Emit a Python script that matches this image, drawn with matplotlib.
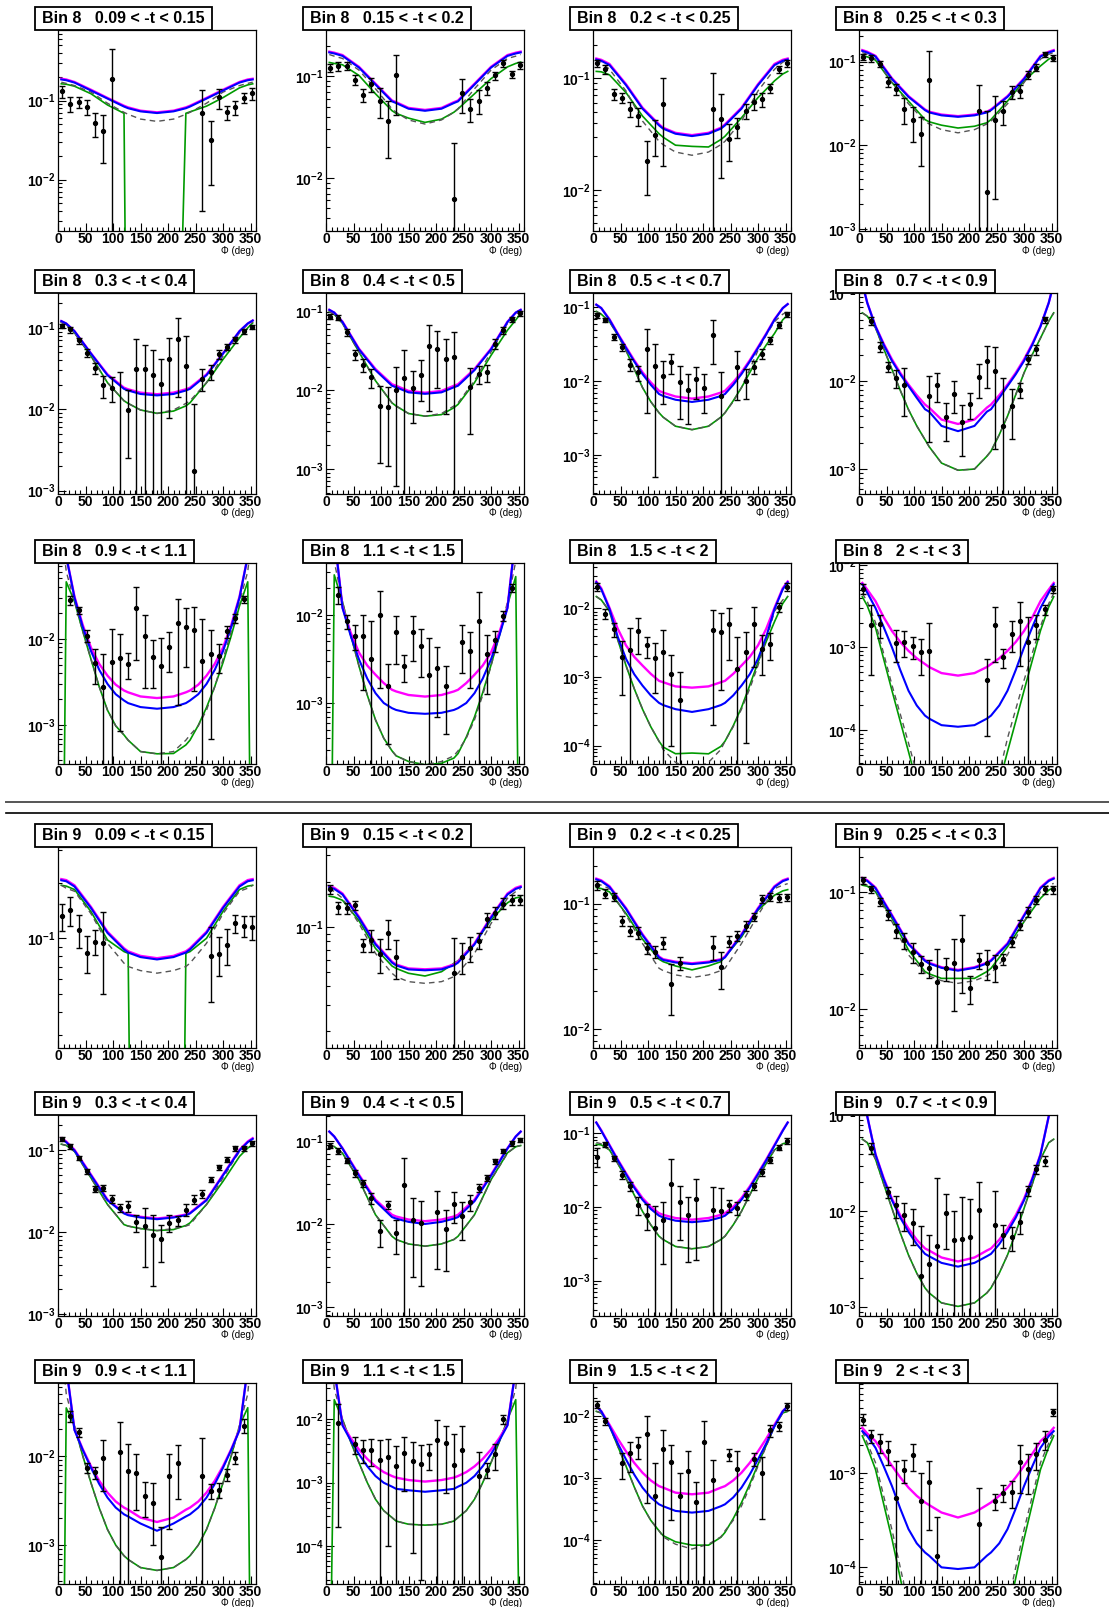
import matplotlib
matplotlib.use('Agg')
import numpy as np
import matplotlib.pyplot as plt
from matplotlib.patches import Rectangle
from matplotlib.lines import Line2D
from matplotlib.ticker import LogLocator, FuncFormatter, NullFormatter, MultipleLocator

plt.rcParams['font.family'] = ['Liberation Sans', 'DejaVu Sans']
plt.rcParams['mathtext.fontset'] = 'custom'
plt.rcParams['mathtext.rm'] = 'Liberation Sans'
plt.rcParams['mathtext.bf'] = 'Liberation Sans:bold'

N = None

BIN_NAMES = ['Bin 8', 'Bin 9']
T_RANGES = ['0.09 < -t < 0.15', '0.15 < -t < 0.2', '0.2 < -t < 0.25', '0.25 < -t < 0.3',
            '0.3 < -t < 0.4', '0.4 < -t < 0.5', '0.5 < -t < 0.7', '0.7 < -t < 0.9',
            '0.9 < -t < 1.1', '1.1 < -t < 1.5', '1.5 < -t < 2', '2 < -t < 3']

# phi bin centres of the data points
PHI_BINS = [7.5, 22.5, 37.5, 52.5, 67.5, 82.5, 97.5, 112.5, 127.5, 142.5, 157.5, 172.5,
            187.5, 202.5, 217.5, 232.5, 247.5, 262.5, 277.5, 292.5, 307.5, 322.5, 337.5, 352.5]
PHI_CURVE = [6, 15, 30, 60, 90, 120, 127.5, 150, 180, 210, 232.5, 240, 270, 300, 330, 345, 354]
# extra read-off points for the steep (large -t) panels
PHI_EXTRA = [45, 75, 105, 255, 285, 315]

# y range of each panel (Bin 8 panels first, then Bin 9)
YLIM = [(2.23e-3, 0.783), (3.0e-3, 0.286), (4.28e-3, 0.270), (9.5e-4, 0.238),
        (9.1e-4, 0.268), (4.8e-4, 0.172), (2.95e-4, 0.157), (5.2e-4, 0.101),
        (3.55e-4, 0.0755), (2.06e-4, 0.0384), (5.4e-5, 0.0459), (3.9e-5, 0.0105),
        (0.0254, 0.313), (0.0155, 0.341), (7.06e-3, 0.282), (4.67e-3, 0.241),
        (9.5e-4, 0.265), (7.8e-4, 0.205), (3.3e-4, 0.177), (8.1e-4, 0.101),
        (3.66e-4, 0.0663), (2.58e-5, 0.0365), (1.93e-5, 0.0345), (6.65e-5, 0.00914)]

DATA_Y = [
    [0.131, 0.0906, 0.095, 0.084, 0.052, 0.041, 0.185, N, N, N, N, N, N, N, N, N, N, 0.070, 0.0315, 0.110, 0.071, 0.082, 0.108, 0.124],
    [0.121, 0.126, 0.126, 0.0927, 0.0658, 0.0833, 0.0578, 0.0366, 0.102, N, N, N, N, N, N, 0.0062, 0.0689, 0.0478, 0.0578, 0.0766, 0.102, 0.134, 0.105, 0.129],
    [0.1355, 0.120, 0.0718, 0.067, 0.0526, 0.0458, 0.0182, 0.0313, 0.0583, N, N, N, N, N, 0.0533, 0.0427, 0.0286, 0.0365, 0.0508, 0.0616, 0.0647, 0.0813, 0.120, 0.1355],
    [0.114, 0.110, 0.093, 0.0575, 0.0466, 0.0275, 0.0198, 0.0137, 0.0603, N, N, N, N, N, 0.026, 0.00275, 0.0203, 0.0256, 0.0437, 0.0445, 0.0692, 0.0847, 0.1225, 0.1117],
    [0.105, 0.0955, 0.070, 0.0494, 0.0324, 0.0197, 0.0184, 0.0008, 0.0098, 0.0309, 0.0309, 0.026, 0.0202, 0.0417, 0.0733, 0.034, 0.00176, 0.0238, 0.0286, 0.0471, 0.0585, 0.072, 0.091, 0.102],
    [0.086, 0.0837, 0.0542, 0.0285, 0.021, 0.0146, 0.00628, 0.0061, 0.0101, 0.0143, 0.0108, 0.0156, 0.0365, 0.0337, 0.025, 0.0263, N, 0.011, 0.0161, 0.0168, 0.039, 0.058, 0.080, 0.095],
    [0.079, 0.0678, 0.040, 0.029, 0.0167, 0.0132, 0.0277, 0.0163, 0.0119, 0.0181, 0.0096, 0.0076, 0.0107, 0.0082, 0.0422, 0.0062, N, 0.0155, 0.0102, 0.0155, 0.0236, 0.036, 0.0578, 0.081],
    [N, 0.0483, 0.0247, 0.0146, 0.0109, 0.009, N, N, 0.00674, 0.00916, 0.0039, 0.0072, 0.0034, 0.00556, 0.0112, 0.0169, 0.0132, 0.0031, 0.0052, 0.008, 0.0177, 0.023, 0.0505, N],
    [N, 0.0282, 0.0213, 0.0109, 0.0053, 0.00275, 0.0054, 0.00605, 0.0051, 0.0227, 0.0107, 0.0062, 0.00487, 0.0081, 0.0152, 0.0137, 0.0128, 0.00555, 0.0067, 0.0064, 0.0122, 0.0174, 0.0287, N],
    [N, 0.0169, 0.0084, 0.0058, 0.0057, 0.0032, 0.010, 0.00155, 0.0063, 0.00263, 0.0063, 0.00446, 0.0021, 0.0025, 0.00155, N, 0.00487, 0.0039, 0.0086, 0.00357, 0.0052, 0.0097, 0.0202, N],
    [0.0208, 0.0084, 0.00497, 0.00195, 0.00244, 0.00465, 0.00289, 0.00188, 0.00231, 0.0011, 0.00047, N, N, N, 0.0048, 0.00454, 0.006, 0.00131, 0.00231, 0.006, 0.00258, 0.00306, 0.0105, 0.0208],
    [0.0051, 0.00187, 0.0019, N, 0.00114, 0.00116, 0.00103, 0.00087, 0.00091, N, N, N, N, N, N, 0.000405, 0.00187, 0.00076, 0.00147, 0.00209, 0.00115, 0.00187, 0.00288, 0.0051],
    [0.132, 0.142, 0.111, 0.0837, 0.096, 0.0948, N, N, N, N, N, N, N, N, N, N, N, N, 0.0803, 0.0822, 0.092, 0.1205, 0.1167, 0.1147],
    [0.1774, 0.1345, 0.133, 0.139, 0.0755, 0.0815, 0.0658, 0.0912, 0.063, N, N, N, N, N, N, 0.0489, 0.063, 0.0718, 0.0807, 0.112, 0.124, 0.143, 0.152, 0.152],
    [0.14, 0.12, 0.113, 0.0728, 0.0607, 0.0585, 0.044, 0.0413, 0.0488, 0.0229, 0.0334, N, N, N, 0.0453, 0.031, 0.0497, 0.055, 0.0661, 0.0783, 0.1096, 0.113, 0.11, 0.112],
    [0.1257, 0.1047, 0.0822, 0.0634, 0.0467, 0.0388, 0.0309, 0.0243, 0.0223, 0.0169, 0.0223, 0.0246, 0.0388, 0.0151, 0.0262, 0.0249, 0.0231, 0.0266, 0.0376, 0.0521, 0.0676, 0.085, 0.1047, 0.1047],
    [0.136, 0.1097, 0.0792, 0.0546, 0.0337, 0.0342, 0.0255, 0.0196, 0.0206, 0.0131, 0.0118, 0.0092, 0.0083, 0.0129, 0.0138, 0.0187, 0.0248, 0.029, 0.0433, 0.061, 0.0756, 0.1047, 0.1047, 0.12],
    [0.0879, 0.0759, 0.0575, 0.0409, 0.031, 0.0205, 0.0083, 0.017, 0.0078, 0.0291, 0.0113, 0.0103, N, 0.0139, 0.0087, 0.0174, 0.0124, 0.0184, 0.027, 0.0356, 0.0565, 0.0759, 0.0938, 0.1028],
    [0.0483, 0.071, 0.0458, 0.0273, 0.019, 0.0107, 0.0078, 0.0052, 0.0067, 0.0204, 0.0115, 0.0078, 0.0129, N, 0.0092, 0.0087, 0.0105, 0.0098, 0.0146, 0.019, 0.0296, 0.0436, 0.064, 0.0787],
    [N, 0.0452, N, 0.0158, 0.0115, 0.0092, 0.0075, 0.0021, 0.0028, 0.0043, 0.0095, 0.005, 0.0052, 0.0054, 0.0102, N, 0.0072, 0.00565, 0.0054, 0.0078, 0.0165, 0.0276, 0.0337, N],
    [N, 0.028, 0.0186, 0.0074, 0.0066, 0.0096, N, 0.0111, 0.0068, 0.0065, 0.00356, 0.003, 0.00073, 0.006, 0.0083, N, N, 0.006, 0.0041, 0.0042, 0.0062, 0.0096, 0.022, N],
    [N, 0.0085, N, 0.004, 0.0033, 0.0033, 0.0023, 0.0025, 0.0018, 0.00294, 0.00218, 0.00193, 0.0028, 0.0046, 0.0042, 0.00187, 0.0033, N, 0.00127, 0.0016, 0.0028, 0.0098, N, N],
    [0.0154, 0.0083, N, 0.00177, 0.00256, 0.00336, 0.0052, 0.00052, 0.0029, 0.00181, 0.00051, 0.0013, 0.00041, 0.0038, 0.00093, N, 0.0024, 0.00138, N, 0.00205, 0.00122, 0.0059, 0.0069, 0.0145],
    [0.00373, 0.00249, 0.00215, 0.00173, 0.00055, 0.00108, 0.00155, 0.00051, 0.0008, 0.000133, N, N, N, N, 0.00029, N, 0.00051, 0.00062, 0.00063, 0.00132, 0.0011, 0.00159, 0.00229, 0.00447],
]

DATA_ERR = [
    [0.023, 0.019, 0.015, 0.018, 0.017, 0.025, 0.26, N, N, N, N, N, N, N, N, N, N, 0.066, 0.023, 0.031, 0.014, 0.016, 0.016, 0.021],
    [0.011, 0.012, 0.011, 0.010, 0.010, 0.013, 0.019, 0.021, 0.060, N, N, N, N, N, N, 0.016, 0.025, 0.012, 0.015, 0.011, 0.009, 0.010, 0.008, 0.010],
    [0.010, 0.012, 0.008, 0.007, 0.008, 0.0087, 0.0093, 0.011, 0.042, N, N, N, N, N, 0.057, 0.030, 0.0105, 0.0073, 0.0075, 0.010, 0.0095, 0.007, 0.009, 0.010],
    [0.009, 0.010, 0.008, 0.008, 0.007, 0.0095, 0.0088, 0.008, 0.072, N, N, N, N, N, 0.026, 0.023, 0.018, 0.008, 0.0075, 0.008, 0.008, 0.008, 0.009, 0.009],
    [0.006, 0.008, 0.006, 0.005, 0.005, 0.006, 0.0062, 0.0278, 0.0073, 0.042, 0.030, 0.027, 0.021, 0.034, 0.059, 0.046, 0.0098, 0.007, 0.006, 0.006, 0.005, 0.006, 0.006, 0.006],
    [0.006, 0.006, 0.005, 0.004, 0.004, 0.004, 0.0051, 0.005, 0.0095, 0.0184, 0.007, 0.0083, 0.031, 0.023, 0.020, 0.028, N, 0.0082, 0.004, 0.004, 0.006, 0.006, 0.006, 0.006],
    [0.006, 0.005, 0.004, 0.003, 0.003, 0.003, 0.024, 0.0158, 0.007, 0.0055, 0.0065, 0.005, 0.005, 0.0045, 0.025, 0.007, N, 0.0099, 0.0045, 0.003, 0.0035, 0.004, 0.005, 0.006],
    [N, 0.005, 0.003, 0.002, 0.0025, 0.005, N, N, 0.0047, 0.0033, 0.0018, 0.0028, 0.002, 0.0018, 0.0047, 0.0086, 0.0115, 0.0078, 0.003, 0.0015, 0.002, 0.003, 0.004, N],
    [N, 0.0035, 0.002, 0.0018, 0.0023, 0.0039, 0.0076, 0.0052, 0.0017, 0.017, 0.008, 0.0035, 0.0054, 0.004, 0.0135, 0.009, 0.0103, 0.0114, 0.006, 0.0024, 0.002, 0.002, 0.003, N],
    [N, 0.0037, 0.0015, 0.0018, 0.0043, 0.0052, 0.0085, 0.0012, 0.0035, 0.0009, 0.0033, 0.0025, 0.0034, 0.0018, 0.0011, N, 0.0027, 0.0024, 0.0093, 0.0023, 0.0014, 0.0012, 0.002, N],
    [0.003, 0.0015, 0.0012, 0.0014, 0.0027, 0.0025, 0.001, 0.0013, 0.0025, 0.001, 0.0007, N, N, N, 0.0046, 0.0039, 0.0042, 0.0025, 0.0022, 0.0046, 0.0015, 0.0013, 0.0015, 0.003],
    [0.0007, 0.0014, 0.0006, N, 0.00047, 0.0004, 0.0003, 0.0004, 0.00105, N, N, N, N, N, N, 0.00032, 0.0012, 0.00019, 0.0006, 0.0015, 0.0012, 0.0006, 0.0004, 0.0005],
    [0.022, 0.025, 0.022, 0.019, 0.015, 0.045, N, N, N, N, N, N, N, N, N, N, N, N, 0.035, 0.020, 0.020, 0.014, 0.015, 0.017],
    [0.012, 0.012, 0.012, 0.010, 0.0075, 0.014, 0.017, 0.020, 0.018, N, N, N, N, N, N, 0.035, 0.015, 0.014, 0.010, 0.012, 0.012, 0.012, 0.012, 0.012],
    [0.011, 0.010, 0.008, 0.006, 0.006, 0.0065, 0.0045, 0.0045, 0.0055, 0.010, 0.004, N, N, N, 0.010, 0.010, 0.005, 0.005, 0.006, 0.006, 0.008, 0.008, 0.008, 0.008],
    [0.008, 0.007, 0.007, 0.006, 0.006, 0.006, 0.006, 0.004, 0.004, 0.0155, 0.005, 0.015, 0.025, 0.004, 0.004, 0.007, 0.006, 0.003, 0.004, 0.005, 0.006, 0.007, 0.008, 0.008],
    [0.008, 0.007, 0.005, 0.004, 0.003, 0.003, 0.003, 0.002, 0.003, 0.003, 0.008, 0.007, 0.004, 0.003, 0.002, 0.003, 0.003, 0.003, 0.003, 0.004, 0.005, 0.007, 0.007, 0.008],
    [0.006, 0.006, 0.004, 0.004, 0.003, 0.003, 0.003, 0.002, 0.0035, 0.033, 0.009, 0.0085, N, 0.011, 0.006, 0.007, 0.006, 0.004, 0.003, 0.003, 0.004, 0.005, 0.006, 0.007],
    [0.014, 0.006, 0.004, 0.003, 0.0025, 0.003, 0.003, 0.005, 0.005, 0.025, 0.008, 0.006, 0.011, N, 0.0094, 0.0095, 0.002, 0.002, 0.002, 0.002, 0.003, 0.004, 0.005, 0.008],
    [N, 0.006, N, 0.002, 0.003, 0.003, 0.003, 0.005, 0.0029, 0.018, 0.0055, 0.005, 0.009, 0.008, 0.010, N, 0.009, 0.0015, 0.0015, 0.002, 0.002, 0.003, 0.004, N],
    [N, 0.004, 0.002, 0.001, 0.001, 0.0055, N, 0.013, 0.007, 0.004, 0.0015, 0.002, 0.00085, 0.0045, 0.005, N, N, 0.010, 0.0008, 0.0008, 0.001, 0.0015, 0.004, N],
    [N, 0.0083, N, 0.0012, 0.0013, 0.0015, 0.0023, 0.0024, 0.002, 0.0022, 0.0021, 0.0019, 0.0012, 0.005, 0.0035, 0.004, 0.0044, N, 0.0018, 0.0004, 0.0012, 0.0015, N, N],
    [0.002, 0.001, N, 0.0008, 0.0013, 0.0013, 0.0048, 0.0012, 0.003, 0.0016, 0.0007, 0.0014, 0.00045, 0.0045, 0.001, N, 0.0005, 0.0014, N, 0.0005, 0.001, 0.0012, 0.0012, 0.002],
    [0.0005, 0.0004, 0.0005, 0.0005, 0.0008, 0.0003, 0.0005, 0.0005, 0.00055, 0.00021, N, N, N, N, 0.0004, N, 0.0001, 0.00013, 0.0002, 0.0007, 0.0005, 0.0005, 0.0005, 0.0004],
]

CURVE_MAGENTA = [
    [0.189, 0.185, 0.172, 0.137, 0.108, 0.086, 0.082, 0.0745, 0.071, 0.0745, 0.082, 0.086, 0.108, 0.137, 0.172, 0.185, 0.189],
    [0.175, 0.171, 0.162, 0.124, 0.0846, 0.0578, 0.0557, 0.0489, 0.0467, 0.0489, 0.0557, 0.0578, 0.0846, 0.124, 0.162, 0.171, 0.175],
    [0.150, 0.146, 0.134, 0.0883, 0.0544, 0.0386, 0.0360, 0.0324, 0.0309, 0.0324, 0.0360, 0.0386, 0.0544, 0.0883, 0.134, 0.146, 0.150],
    [0.137, 0.131, 0.117, 0.063, 0.0387, 0.0268, 0.0252, 0.0233, 0.0223, 0.0233, 0.0252, 0.0268, 0.0387, 0.063, 0.117, 0.131, 0.137],
    [0.121, 0.113, 0.091, 0.0486, 0.0268, 0.0184, 0.0176, 0.0160, 0.0153, 0.0160, 0.0176, 0.0184, 0.0268, 0.0486, 0.091, 0.113, 0.123],
    [0.105, 0.097, 0.0743, 0.0337, 0.0186, 0.0119, 0.0114, 0.0098, 0.0093, 0.0098, 0.0114, 0.0119, 0.0186, 0.0337, 0.0743, 0.097, 0.105],
    [0.109, 0.098, 0.0692, 0.029, 0.0132, 0.0074, 0.0070, 0.0062, 0.0058, 0.0062, 0.0070, 0.0074, 0.0132, 0.029, 0.0692, 0.098, 0.111],
    [0.13, 0.0783, 0.0424, 0.0177, 0.00916, 0.00542, 0.0050, 0.00366, 0.00326, 0.00366, 0.0050, 0.00542, 0.00916, 0.0177, 0.0424, 0.0783, 0.13],
    [0.2, 0.09, 0.0308, 0.0079, 0.00374, 0.00252, 0.0024, 0.00215, 0.00206, 0.00215, 0.0024, 0.00252, 0.00374, 0.0079, 0.0308, 0.09, 0.2],
    [0.2, 0.08, 0.0122, 0.00374, 0.0021, 0.00142, 0.00136, 0.00124, 0.00119, 0.00124, 0.00136, 0.00142, 0.0021, 0.00374, 0.0122, 0.08, 0.2],
    [0.0247, 0.0197, 0.0102, 0.00289, 0.00147, 0.00088, 0.00084, 0.00073, 0.0007, 0.00073, 0.00084, 0.00088, 0.00147, 0.00289, 0.0102, 0.0197, 0.0247],
    [0.00603, 0.00501, 0.00363, 0.00158, 0.00091, 0.00063, 0.00058, 0.00049, 0.000457, 0.00049, 0.00058, 0.00063, 0.00091, 0.00158, 0.00363, 0.00501, 0.00603],
    [0.2096, 0.207, 0.194, 0.148, 0.1086, 0.0883, 0.085, 0.0803, 0.078, 0.0803, 0.085, 0.0883, 0.1086, 0.148, 0.194, 0.207, 0.2096],
    [0.1866, 0.182, 0.1668, 0.1166, 0.0774, 0.0585, 0.056, 0.0527, 0.052, 0.0527, 0.056, 0.0585, 0.0774, 0.1166, 0.1668, 0.182, 0.1866],
    [0.158, 0.153, 0.1374, 0.092, 0.057, 0.0378, 0.036, 0.0344, 0.0334, 0.0344, 0.036, 0.0378, 0.057, 0.092, 0.1374, 0.153, 0.158],
    [0.1315, 0.1257, 0.1089, 0.0634, 0.0364, 0.0262, 0.0249, 0.0228, 0.0216, 0.0228, 0.0249, 0.0262, 0.0364, 0.0634, 0.1089, 0.1257, 0.1315],
    [0.1384, 0.1262, 0.1, 0.0498, 0.0248, 0.0171, 0.0163, 0.0153, 0.0146, 0.0153, 0.0163, 0.0171, 0.0248, 0.0498, 0.1, 0.1262, 0.1384],
    [0.1294, 0.113, 0.0817, 0.0391, 0.0196, 0.0129, 0.0123, 0.0113, 0.0108, 0.0113, 0.0123, 0.0129, 0.0196, 0.0391, 0.0817, 0.113, 0.1294],
    [0.14, 0.11, 0.0695, 0.0287, 0.0132, 0.0082, 0.0078, 0.00706, 0.0067, 0.00706, 0.0078, 0.0082, 0.0132, 0.0287, 0.0695, 0.11, 0.14],
    [0.2, 0.098, 0.0395, 0.0135, 0.0066, 0.0041, 0.0039, 0.0033, 0.003, 0.0033, 0.0039, 0.0041, 0.0066, 0.0135, 0.0395, 0.098, 0.2],
    [0.2, 0.1, 0.0199, 0.0077, 0.00389, 0.00264, 0.0025, 0.00204, 0.00182, 0.00204, 0.0025, 0.00264, 0.00389, 0.0077, 0.0199, 0.1, 0.2],
    [0.2, 0.06, 0.0081, 0.0033, 0.0018, 0.00127, 0.0012, 0.0011, 0.00104, 0.0011, 0.0012, 0.00127, 0.0018, 0.0033, 0.0081, 0.06, 0.2],
    [0.0145, 0.0121, 0.0073, 0.0027, 0.00122, 0.00074, 0.0007, 0.00058, 0.000546, 0.00058, 0.0007, 0.00074, 0.00122, 0.0027, 0.0073, 0.0121, 0.0145],
    [0.00305, 0.00265, 0.0022, 0.0012, 0.000705, 0.00049, 0.00046, 0.000383, 0.000339, 0.000383, 0.00046, 0.00049, 0.000705, 0.0012, 0.0022, 0.00265, 0.00305],
]

CURVE_BLUE = [
    [0.185, 0.181, 0.169, 0.134, 0.106, 0.084, 0.080, 0.073, 0.0695, 0.073, 0.080, 0.084, 0.106, 0.134, 0.169, 0.181, 0.185],
    [0.172, 0.168, 0.159, 0.122, 0.0830, 0.0567, 0.0546, 0.0480, 0.0458, 0.0480, 0.0546, 0.0567, 0.0830, 0.122, 0.159, 0.168, 0.172],
    [0.147, 0.143, 0.131, 0.0866, 0.0533, 0.0378, 0.0353, 0.0318, 0.0303, 0.0318, 0.0353, 0.0378, 0.0533, 0.0866, 0.131, 0.143, 0.147],
    [0.134, 0.128, 0.115, 0.0617, 0.0379, 0.0263, 0.0247, 0.0228, 0.0219, 0.0228, 0.0247, 0.0263, 0.0379, 0.0617, 0.115, 0.128, 0.134],
    [0.121, 0.113, 0.091, 0.0482, 0.0262, 0.0178, 0.0170, 0.0154, 0.0148, 0.0154, 0.0170, 0.0178, 0.0262, 0.0482, 0.091, 0.113, 0.123],
    [0.105, 0.097, 0.0735, 0.0330, 0.0180, 0.0114, 0.0109, 0.0094, 0.0090, 0.0094, 0.0109, 0.0114, 0.0180, 0.0330, 0.0735, 0.097, 0.105],
    [0.109, 0.098, 0.068, 0.0282, 0.0125, 0.0067, 0.0063, 0.0056, 0.00523, 0.0056, 0.0063, 0.0067, 0.0125, 0.0282, 0.068, 0.098, 0.111],
    [0.13, 0.078, 0.042, 0.017, 0.0088, 0.0048, 0.0045, 0.0031, 0.0027, 0.0031, 0.0045, 0.0048, 0.0088, 0.017, 0.042, 0.078, 0.13],
    [0.2, 0.09, 0.030, 0.0072, 0.0030, 0.00193, 0.0018, 0.00162, 0.00155, 0.00162, 0.0018, 0.00193, 0.0030, 0.0072, 0.030, 0.09, 0.2],
    [0.2, 0.08, 0.0119, 0.00313, 0.0013, 0.00088, 0.00084, 0.00078, 0.00076, 0.00078, 0.00084, 0.00088, 0.0013, 0.00313, 0.0119, 0.08, 0.2],
    [0.024, 0.019, 0.0098, 0.00184, 0.00075, 0.00042, 0.00039, 0.00034, 0.00031, 0.00034, 0.00039, 0.00042, 0.00075, 0.00184, 0.0098, 0.019, 0.024],
    [0.0058, 0.0046, 0.0030, 0.0010, 0.0003, 0.00015, 0.000138, 0.000115, 0.00011, 0.000115, 0.000138, 0.00015, 0.0003, 0.0010, 0.0030, 0.0046, 0.0058],
    [0.2065, 0.204, 0.191, 0.146, 0.107, 0.087, 0.0837, 0.0791, 0.0768, 0.0791, 0.0837, 0.087, 0.107, 0.146, 0.191, 0.204, 0.2065],
    [0.1838, 0.179, 0.1643, 0.1148, 0.0762, 0.0576, 0.0552, 0.0519, 0.0512, 0.0519, 0.0552, 0.0576, 0.0762, 0.1148, 0.1643, 0.179, 0.1838],
    [0.1556, 0.1507, 0.1353, 0.0905, 0.056, 0.0372, 0.0355, 0.0339, 0.0329, 0.0339, 0.0355, 0.0372, 0.056, 0.0905, 0.1353, 0.1507, 0.1556],
    [0.1295, 0.1238, 0.1073, 0.0624, 0.0358, 0.0258, 0.0245, 0.0225, 0.0213, 0.0225, 0.0245, 0.0258, 0.0358, 0.0624, 0.1073, 0.1238, 0.1295],
    [0.1356, 0.1237, 0.098, 0.0488, 0.0243, 0.0168, 0.016, 0.015, 0.0143, 0.015, 0.016, 0.0168, 0.0243, 0.0488, 0.098, 0.1237, 0.1356],
    [0.1294, 0.113, 0.081, 0.038, 0.0188, 0.0121, 0.0116, 0.0106, 0.0100, 0.0106, 0.0116, 0.0121, 0.0188, 0.038, 0.081, 0.113, 0.1294],
    [0.14, 0.108, 0.068, 0.0278, 0.0125, 0.0076, 0.0072, 0.0065, 0.0062, 0.0065, 0.0072, 0.0076, 0.0125, 0.0278, 0.068, 0.108, 0.14],
    [0.2, 0.098, 0.039, 0.013, 0.0061, 0.0036, 0.0034, 0.0029, 0.00265, 0.0029, 0.0034, 0.0036, 0.0061, 0.013, 0.039, 0.098, 0.2],
    [0.2, 0.1, 0.0196, 0.0074, 0.00342, 0.00222, 0.0021, 0.00175, 0.00145, 0.00175, 0.0021, 0.00222, 0.00342, 0.0074, 0.0196, 0.1, 0.2],
    [0.2, 0.06, 0.0079, 0.0028, 0.00127, 0.000866, 0.0008, 0.00076, 0.00072, 0.00076, 0.0008, 0.000866, 0.00127, 0.0028, 0.0079, 0.06, 0.2],
    [0.0145, 0.012, 0.0069, 0.002, 0.0007, 0.000376, 0.00035, 0.000294, 0.000276, 0.000294, 0.00035, 0.000376, 0.0007, 0.002, 0.0069, 0.012, 0.0145],
    [0.00281, 0.00249, 0.00187, 0.00073, 0.000255, 0.000144, 0.000133, 0.0001, 0.000096, 0.0001, 0.000133, 0.000144, 0.000255, 0.00073, 0.00187, 0.00249, 0.00281],
]

CURVE_GREEN = [
    [0.163, 0.161, 0.152, 0.122, 0.088, 0.069, 1e-7, 1e-7, 1e-7, 1e-7, 0.069, 0.072, 0.085, 0.109, 0.145, 0.158, 0.163],
    [0.137, 0.134, 0.130, 0.102, 0.0673, 0.0459, 0.0432, 0.0388, 0.0352, 0.0379, 0.0443, 0.0478, 0.0673, 0.0948, 0.124, 0.134, 0.138],
    [0.115, 0.114, 0.107, 0.0743, 0.0458, 0.0318, 0.0296, 0.0251, 0.0245, 0.0242, 0.0282, 0.0302, 0.0442, 0.067, 0.0946, 0.109, 0.115],
    [0.117, 0.114, 0.104, 0.056, 0.0337, 0.0203, 0.0191, 0.0174, 0.0161, 0.0169, 0.0186, 0.0203, 0.0337, 0.0586, 0.0887, 0.107, 0.114],
    [0.117, 0.110, 0.0868, 0.045, 0.0212, 0.0127, 0.0118, 0.0098, 0.0089, 0.0095, 0.011, 0.012, 0.0212, 0.041, 0.0754, 0.100, 0.115],
    [0.100, 0.092, 0.0708, 0.0306, 0.0132, 0.0069, 0.0063, 0.00506, 0.00468, 0.0049, 0.0060, 0.0066, 0.0125, 0.0277, 0.058, 0.078, 0.095],
    [0.0882, 0.081, 0.0642, 0.0262, 0.0082, 0.00373, 0.00325, 0.00245, 0.0022, 0.00245, 0.00325, 0.00373, 0.0082, 0.0208, 0.0444, 0.068, 0.079],
    [0.060, 0.055, 0.0406, 0.0136, 0.00475, 0.00216, 0.0018, 0.00117, 0.00097, 0.0010, 0.0014, 0.0016, 0.0040, 0.0124, 0.031, 0.0483, 0.060],
    [1e-7, 0.0457, 0.027, 0.0058, 0.00149, 0.00077, 0.00067, 0.000495, 0.000466, 0.00047, 0.00059, 0.00067, 0.0016, 0.0053, 0.024, 0.0457, 1e-7],
    [1e-7, 0.0282, 0.014, 0.00263, 0.00065, 0.00029, 0.000255, 0.00022, 0.000202, 0.00021, 0.00024, 0.00027, 0.0007, 0.0027, 0.0128, 0.027, 1e-7],
    [0.0149, 0.0133, 0.0091, 0.00147, 0.00034, 0.000116, 0.0000955, 0.0000762, 0.000078, 0.000076, 0.0000975, 0.000116, 0.00036, 0.00164, 0.0064, 0.0118, 0.0149],
    [0.0041, 0.0032, 0.00174, 0.0003, 0.000055, 1e-5, 1e-5, 1e-6, 1e-6, 1e-6, 1e-5, 1e-5, 0.000055, 0.0003, 0.0016, 0.0031, 0.0041],
    [0.194, 0.192, 0.184, 0.1395, 0.098, 0.0847, 0.083, 1e-7, 1e-7, 1e-7, 0.083, 0.0847, 0.100, 0.140, 0.184, 0.192, 0.194],
    [0.16, 0.158, 0.1503, 0.1097, 0.0717, 0.0547, 0.0527, 0.0489, 0.0469, 0.0501, 0.057, 0.0593, 0.0774, 0.111, 0.1446, 0.156, 0.158],
    [0.134, 0.1315, 0.1237, 0.0833, 0.052, 0.036, 0.0344, 0.0318, 0.0296, 0.0318, 0.0344, 0.0378, 0.054, 0.0885, 0.1165, 0.126, 0.129],
    [0.114, 0.1117, 0.1, 0.0593, 0.0319, 0.0209, 0.02, 0.0183, 0.0183, 0.0183, 0.0209, 0.0223, 0.034, 0.0556, 0.088, 0.1034, 0.109],
    [0.117, 0.113, 0.0955, 0.0454, 0.0216, 0.0123, 0.0118, 0.011, 0.0104, 0.0107, 0.012, 0.0129, 0.0216, 0.0413, 0.083, 0.105, 0.115],
    [0.088, 0.0855, 0.0711, 0.034, 0.0129, 0.0071, 0.0065, 0.00575, 0.0054, 0.00575, 0.0065, 0.0071, 0.0129, 0.034, 0.072, 0.085, 0.088],
    [0.071, 0.0695, 0.0594, 0.0245, 0.0087, 0.004, 0.0036, 0.0029, 0.0027, 0.0029, 0.0036, 0.004, 0.0087, 0.0245, 0.0594, 0.072, 0.075],
    [0.0565, 0.052, 0.035, 0.0107, 0.0035, 0.00159, 0.00141, 0.00111, 0.00102, 0.00111, 0.00141, 0.00159, 0.0035, 0.0107, 0.035, 0.052, 0.0565],
    [1e-7, 0.0348, 0.0217, 0.005, 0.0015, 0.00076, 0.00069, 0.00056, 0.00052, 0.00056, 0.00069, 0.00076, 0.0015, 0.005, 0.022, 0.035, 1e-7],
    [1e-7, 0.02, 0.0098, 0.00205, 0.00055, 0.000284, 0.00025, 0.000223, 0.000216, 0.000223, 0.00025, 0.000284, 0.00055, 0.00205, 0.0098, 0.02, 1e-7],
    [0.012, 0.0113, 0.0069, 0.00156, 0.000353, 0.00014, 0.000117, 0.000093, 0.000082, 0.000082, 0.00011, 0.000132, 0.0004, 0.00166, 0.0069, 0.0113, 0.012],
    [0.0025, 0.0019, 0.0011, 0.0002, 0.00003, 1e-6, 1e-6, 1e-6, 1e-6, 1e-6, 1e-6, 1e-6, 0.00003, 0.0002, 0.0011, 0.0019, 0.0025],
]

CURVE_DASHED = [
    [0.171, 0.165, 0.155, 0.128, 0.0925, 0.071, 0.067, 0.0583, 0.0545, 0.0583, 0.067, 0.071, 0.0925, 0.128, 0.155, 0.165, 0.171],
    [0.164, 0.158, 0.150, 0.115, 0.0754, 0.0478, 0.0443, 0.0372, 0.0339, 0.0372, 0.0443, 0.0478, 0.0754, 0.115, 0.150, 0.158, 0.164],
    [0.1455, 0.139, 0.120, 0.0769, 0.0413, 0.0272, 0.0254, 0.0218, 0.0204, 0.0218, 0.0254, 0.0272, 0.0413, 0.0769, 0.120, 0.139, 0.1455],
    [0.128, 0.122, 0.107, 0.056, 0.0313, 0.0194, 0.018, 0.0154, 0.0141, 0.0154, 0.018, 0.0194, 0.0313, 0.056, 0.107, 0.122, 0.128],
    [0.117, 0.110, 0.0868, 0.045, 0.0212, 0.0127, 0.0118, 0.0098, 0.0089, 0.0098, 0.0118, 0.0127, 0.0212, 0.045, 0.0868, 0.110, 0.117],
    [0.100, 0.092, 0.0708, 0.0306, 0.0132, 0.0069, 0.0063, 0.00506, 0.00468, 0.00506, 0.0063, 0.0069, 0.0132, 0.0306, 0.0708, 0.092, 0.100],
    [0.0882, 0.081, 0.0642, 0.0262, 0.0082, 0.00373, 0.00325, 0.00245, 0.0022, 0.00245, 0.00325, 0.00373, 0.0082, 0.0262, 0.0642, 0.081, 0.0882],
    [0.060, 0.055, 0.0406, 0.0136, 0.00475, 0.00216, 0.0018, 0.00117, 0.00097, 0.0010, 0.0014, 0.0016, 0.0040, 0.0124, 0.031, 0.0483, 0.060],
    [0.2, 0.06, 0.027, 0.0058, 0.00149, 0.00077, 0.00067, 0.000495, 0.000466, 0.000495, 0.00067, 0.00077, 0.00149, 0.0058, 0.027, 0.06, 0.2],
    [0.2, 0.04, 0.014, 0.00263, 0.00065, 0.00029, 0.000255, 0.00022, 0.000202, 0.00022, 0.000255, 0.00029, 0.00065, 0.00263, 0.014, 0.04, 0.2],
    [0.0149, 0.0133, 0.0091, 0.00147, 0.00034, 0.000116, 0.000088, 0.000057, 0.000045, 0.000057, 0.000088, 0.000116, 0.00034, 0.00147, 0.0091, 0.0133, 0.0149],
    [0.0045, 0.0036, 0.0020, 0.00035, 0.00007, 1e-5, 1e-5, 1e-6, 1e-6, 1e-6, 1e-5, 1e-5, 0.00008, 0.0004, 0.0018, 0.0034, 0.0045],
    [0.194, 0.187, 0.180, 0.136, 0.094, 0.0733, 0.0703, 0.0668, 0.0647, 0.0668, 0.0703, 0.0733, 0.094, 0.136, 0.180, 0.187, 0.194],
    [0.18, 0.172, 0.155, 0.105, 0.0664, 0.0489, 0.0464, 0.043, 0.0419, 0.043, 0.0464, 0.0489, 0.0664, 0.105, 0.155, 0.172, 0.18],
    [0.144, 0.14, 0.1315, 0.0808, 0.048, 0.0305, 0.0292, 0.027, 0.0257, 0.027, 0.0292, 0.0305, 0.048, 0.0808, 0.1315, 0.14, 0.144],
    [0.118, 0.114, 0.1, 0.0556, 0.029, 0.0202, 0.0192, 0.0175, 0.0166, 0.0175, 0.0192, 0.0202, 0.029, 0.0556, 0.1, 0.114, 0.118],
    [0.117, 0.113, 0.0955, 0.0454, 0.0216, 0.0123, 0.0118, 0.011, 0.0104, 0.011, 0.0118, 0.0123, 0.0216, 0.0454, 0.0955, 0.113, 0.117],
    [0.088, 0.0855, 0.0711, 0.034, 0.0129, 0.0071, 0.0065, 0.00575, 0.0054, 0.00575, 0.0065, 0.0071, 0.0129, 0.034, 0.0711, 0.0855, 0.088],
    [0.075, 0.072, 0.0594, 0.0245, 0.0087, 0.004, 0.0036, 0.0029, 0.0027, 0.0029, 0.0036, 0.004, 0.0087, 0.0245, 0.0594, 0.072, 0.075],
    [0.0565, 0.052, 0.035, 0.0107, 0.0035, 0.00159, 0.00141, 0.00111, 0.00102, 0.00111, 0.00141, 0.00159, 0.0035, 0.0107, 0.035, 0.052, 0.0565],
    [0.2, 0.05, 0.0217, 0.005, 0.0015, 0.00076, 0.00069, 0.00056, 0.00052, 0.00056, 0.00069, 0.00076, 0.0015, 0.005, 0.0217, 0.05, 0.2],
    [0.2, 0.03, 0.0098, 0.00205, 0.00055, 0.000284, 0.00025, 0.000223, 0.000216, 0.000223, 0.00025, 0.000284, 0.00055, 0.00205, 0.0098, 0.03, 0.2],
    [0.012, 0.0113, 0.0069, 0.00156, 0.000353, 0.00014, 0.000112, 0.000085, 0.000071, 0.000085, 0.000112, 0.00014, 0.000353, 0.00156, 0.0069, 0.0113, 0.012],
    [0.0028, 0.0021, 0.0013, 0.00025, 0.00004, 1e-6, 1e-6, 1e-6, 1e-6, 1e-6, 1e-6, 1e-6, 0.00004, 0.00025, 0.0013, 0.0021, 0.0028],
]

# curve values at PHI_EXTRA (only read for the steep panels)
EXTRA_MAGENTA = [
    N, N, N, N, N, N,
    [0.0443, 0.0192, 0.00964, 0.00964, 0.0192, 0.0443],
    [0.02667, 0.01246, 0.00693, 0.00693, 0.01246, 0.02667],
    [0.01445, 0.00512, 0.00294, 0.00294, 0.00512, 0.01445],
    [0.00626, 0.00267, 0.00169, 0.00169, 0.00267, 0.00626],
    [0.00505, 0.001967, 0.001114, 0.001114, 0.001967, 0.00505],
    [0.002312, 0.001165, 0.00074, 0.00074, 0.001165, 0.002312],
    N, N, N, N, N, N,
    [0.04406, 0.01897, 0.01002, 0.01002, 0.01897, 0.04406],
    [0.02208, 0.0091, 0.00505, 0.00505, 0.0091, 0.02208],
    [0.01197, 0.00528, 0.00309, 0.00309, 0.00528, 0.01197],
    [0.00498, 0.002355, 0.001464, 0.001464, 0.002355, 0.00498],
    [0.00433, 0.00176, 0.000916, 0.000916, 0.00176, 0.00433],
    [0.00161, 0.000906, 0.000576, 0.000576, 0.000906, 0.00161],
]
EXTRA_BLUE = [
    N, N, N, N, N, N,
    [0.0434, 0.01847, 0.00894, 0.00894, 0.01847, 0.0434],
    [0.0259, 0.0120, 0.00646, 0.00646, 0.0120, 0.0259],
    [0.01372, 0.00437, 0.00228, 0.00228, 0.00437, 0.01372],
    [0.00576, 0.0019, 0.001006, 0.001006, 0.0019, 0.00576],
    [0.003854, 0.001097, 0.00054, 0.00054, 0.001097, 0.003854],
    [0.001754, 0.000534, 0.000199, 0.000199, 0.000534, 0.001754],
    N, N, N, N, N, N,
    [0.04295, 0.01818, 0.00938, 0.00938, 0.01818, 0.04295],
    [0.02158, 0.0086, 0.00455, 0.00455, 0.0086, 0.02158],
    [0.01174, 0.00486, 0.00264, 0.00264, 0.00486, 0.01174],
    [0.00456, 0.00181, 0.000997, 0.000997, 0.00181, 0.00456],
    [0.00363, 0.001138, 0.000486, 0.000486, 0.001138, 0.00363],
    [0.001184, 0.000422, 0.00018, 0.00018, 0.000422, 0.001184],
]
EXTRA_GREEN = [
    N, N, N, N, N, N,
    [0.0424, 0.01455, 0.00528, 0.00543, 0.01306, 0.031],
    [0.02337, 0.00788, 0.0031, 0.00246, 0.00704, 0.0201],
    [0.01224, 0.00278, 0.00098, 0.000994, 0.0028, 0.01084],
    [0.00586, 0.00124, 0.000403, 0.000414, 0.001323, 0.00573],
    [0.003496, 0.000675, 0.000189, 0.000195, 0.000758, 0.0033],
    [0.000717, 0.000128, 2.3e-5, 2.3e-5, 0.000128, 0.000693],
    N, N, N, N, N, N,
    [0.03888, 0.0145, 0.00571, 0.00571, 0.0145, 0.03888],
    [0.01919, 0.00597, 0.002264, 0.002264, 0.00597, 0.01919],
    [0.01008, 0.00261, 0.001, 0.001, 0.00261, 0.01008],
    [0.004345, 0.001004, 0.000364, 0.000364, 0.001004, 0.004345],
    [0.00328, 0.000717, 0.000207, 0.000221, 0.000799, 0.00338],
    [0.000469, 7.7e-5, 5.5e-6, 5.5e-6, 7.7e-5, 0.000469],
]
EXTRA_DASHED = [
    N, N, N, N, N, N,
    [0.0424, 0.01455, 0.00528, 0.00528, 0.01455, 0.0424],
    [0.02337, 0.00788, 0.0031, 0.00246, 0.00704, 0.0201],
    [0.01224, 0.00278, 0.00098, 0.00098, 0.00278, 0.01224],
    [0.00586, 0.00124, 0.000403, 0.000403, 0.00124, 0.00586],
    [0.003496, 0.000675, 0.000189, 0.000189, 0.000675, 0.003496],
    [0.000837, 0.000157, 3e-5, 3e-5, 0.000179, 0.000849],
    N, N, N, N, N, N,
    [0.03888, 0.0145, 0.00571, 0.00571, 0.0145, 0.03888],
    [0.01919, 0.00597, 0.002264, 0.002264, 0.00597, 0.01919],
    [0.01008, 0.00261, 0.001, 0.001, 0.00261, 0.01008],
    [0.004345, 0.001004, 0.000364, 0.000364, 0.001004, 0.004345],
    [0.00328, 0.000717, 0.000207, 0.000207, 0.000717, 0.00328],
    [0.00057, 0.0001, 6e-6, 6e-6, 0.0001, 0.00057],
]

# layout in pixels
W, H = 1109, 1607
COL_LEFT = [58, 326, 593, 859]
ROW_TOP = [30, 293, 563, 847, 1115, 1383]
AX_W, AX_H = 198, 201

fig = plt.figure(figsize=(W / 100, H / 100), dpi=100)
renderer = fig.canvas.get_renderer()


def decade_label(v, pos):
    return r'$\mathbf{10^{%d}}$' % int(round(np.log10(v)))


def curve_points(base, extra):
    pts = list(zip(PHI_CURVE, base))
    if extra is not None:
        pts += list(zip(PHI_EXTRA, extra))
    pts.sort()
    return [p for p, _ in pts], [v for _, v in pts]


for k in range(24):
    grp, idx = divmod(k, 12)
    row, col = divmod(idx, 4)
    left = COL_LEFT[col]
    top = ROW_TOP[grp * 3 + row]
    ax = fig.add_axes([left / W, 1 - (top + AX_H) / H, AX_W / W, AX_H / H])
    ax.set_yscale('log')
    ylo, yhi = YLIM[k]

    # model curves
    ax.plot(*curve_points(CURVE_GREEN[k], EXTRA_GREEN[k]), color='#009a00', lw=1.2, zorder=2)
    ax.plot(*curve_points(CURVE_DASHED[k], EXTRA_DASHED[k]), color='#555555', lw=1.0,
            ls=(0, (4, 3)), zorder=2.1)
    ax.plot(*curve_points(CURVE_MAGENTA[k], EXTRA_MAGENTA[k]), color='#ff00ff', lw=1.7, zorder=2.2)
    ax.plot(*curve_points(CURVE_BLUE[k], EXTRA_BLUE[k]), color='#0000ff', lw=1.5, zorder=2.3)

    # data points
    xs, ys, lo, hi = [], [], [], []
    for phi, v, e in zip(PHI_BINS, DATA_Y[k], DATA_ERR[k]):
        if v is None:
            continue
        xs.append(phi)
        ys.append(v)
        hi.append(e)
        lo.append(e if v - e > 0 else v - ylo * 0.5)
    ax.errorbar(xs, ys, yerr=[lo, hi], fmt='o', ms=2.8, color='black', ecolor='black',
                elinewidth=1.0, capsize=2.5, capthick=1.0, zorder=3)

    ax.set_xlim(0, 360)
    ax.set_ylim(ylo, yhi)
    ax.set_xticks([0, 50, 100, 150, 200, 250, 300, 350])
    ax.set_xticklabels(['0', '50', '100', '150', '200', '250', '300', '350'],
                       fontsize=10, fontweight='bold')
    ax.xaxis.set_minor_locator(MultipleLocator(10))
    ax.yaxis.set_major_locator(LogLocator(base=10, subs=(1.0,), numticks=50))
    ax.yaxis.set_minor_locator(LogLocator(base=10, subs=np.arange(2, 10), numticks=50))
    ax.yaxis.set_major_formatter(FuncFormatter(decade_label))
    ax.yaxis.set_minor_formatter(NullFormatter())
    ax.tick_params(which='both', direction='in', top=False, right=False, width=0.8)
    ax.tick_params(which='major', length=6, labelsize=10)
    ax.tick_params(axis='x', which='major', pad=1)
    ax.tick_params(axis='y', which='major', pad=2)
    ax.tick_params(which='minor', length=3)
    for s in ax.spines.values():
        s.set_linewidth(0.9)

    # axis title
    fig.text((left + AX_W - 2) / W, 1 - (top + AX_H + 19.5) / H, 'Φ (deg)',
             fontsize=7, ha='right', va='center')

    # panel title box
    label = BIN_NAMES[grp] + '   ' + T_RANGES[idx]
    t = fig.text((left - 23 + 7) / W, 1 - (top - 11.5) / H, label, fontsize=11.5,
                 fontweight='bold', ha='left', va='center', zorder=6)
    bb = t.get_window_extent(renderer)
    fig.add_artist(Rectangle(((left - 23) / W, 1 - top / H), (bb.width + 14) / W, 23 / H,
                             transform=fig.transFigure, facecolor='white',
                             edgecolor='black', lw=1.3, zorder=5))

# double separator line between the two bins
fig.add_artist(Line2D([6 / W, 1], [1 - 802 / H] * 2, transform=fig.transFigure,
                      color='#555555', lw=1.4))
fig.add_artist(Line2D([6 / W, 1], [1 - 813 / H] * 2, transform=fig.transFigure,
                      color='black', lw=1.2))

fig.savefig('out.png', dpi=100)
